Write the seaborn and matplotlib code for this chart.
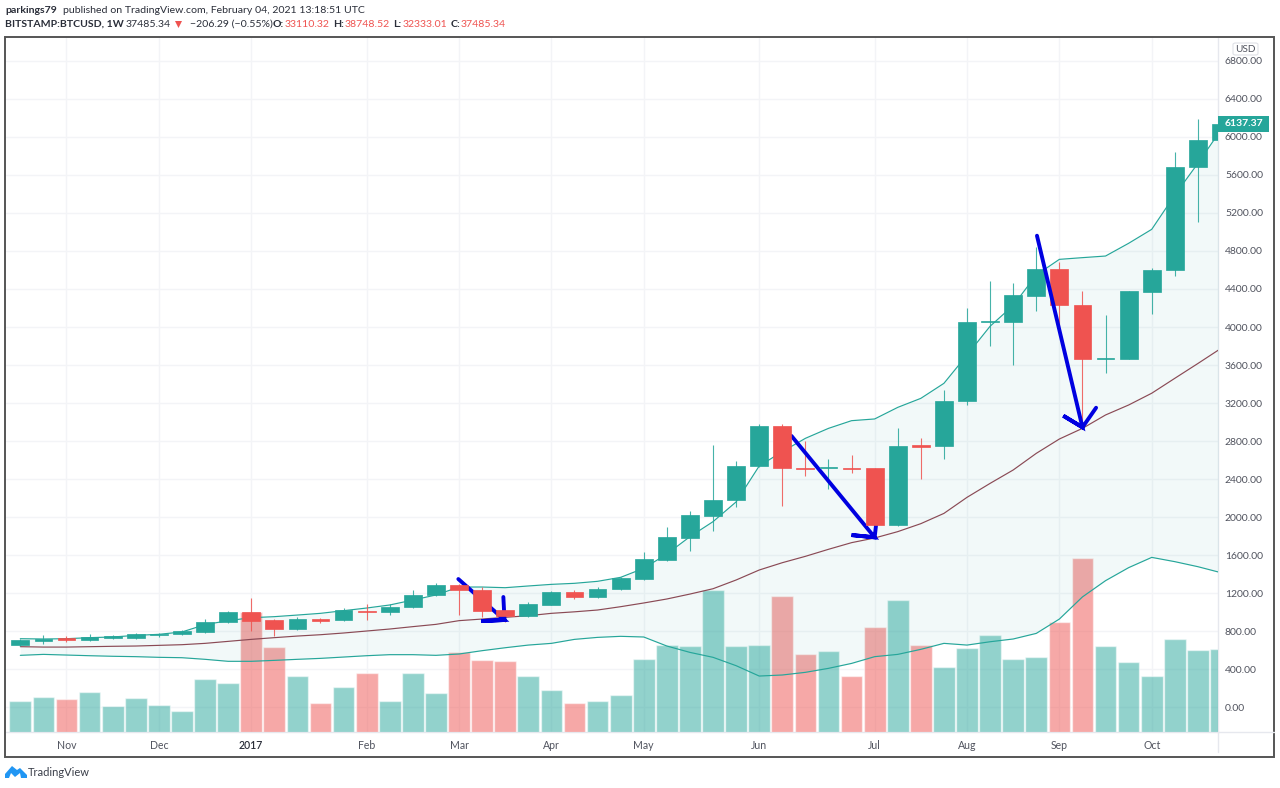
#!/usr/bin/env python3
"""BTCUSD weekly candles with bollinger bands and volume, TradingView look"""

import matplotlib
matplotlib.use('Agg')
import matplotlib.pyplot as plt
from matplotlib.lines import Line2D
from matplotlib.patches import FancyBboxPatch, Polygon, Rectangle
import numpy as np
import pandas as pd
import seaborn as sns

# weekly candles, index 0 is the first bar in the chart
opens = [649, 695, 723, 705, 726, 729, 758, 768, 793, 895, 1000, 916, 821, 930, 916, 1014, 997, 1053, 1179, 1281,
         1232, 1018, 961, 1077, 1207, 1158, 1239, 1344, 1547, 1782, 2014, 2176, 2534, 2958, 2519, 2513, 2516, 2512,
         1916, 2761, 2750, 3224, 4050, 4056, 4326, 4607, 4232, 3663, 3666, 4372, 4597, 5687, 5968]
highs = [719, 755, 744, 765, 755, 779, 779, 811, 923, 1010, 1144, 923, 947, 937, 1045, 1081, 1081, 1228, 1302, 1295,
         1266, 1021, 1102, 1224, 1232, 1260, 1365, 1628, 1895, 2063, 2758, 2589, 2979, 2979, 2797, 2607, 2653, 2519,
         2940, 2828, 3337, 4203, 4484, 4460, 4845, 4687, 4382, 4126, 4382, 4618, 5845, 6186, 6150]
lows = [641, 666, 684, 698, 719, 719, 737, 761, 782, 887, 803, 747, 814, 881, 905, 916, 972, 1042, 1168, 968,
        944, 898, 950, 1070, 1137, 1151, 1228, 1337, 1540, 1639, 1853, 2108, 2530, 2119, 2435, 2291, 2460, 1905,
        1905, 2397, 2610, 3176, 3800, 3600, 4168, 4003, 2950, 3512, 3660, 4140, 4537, 5102, 5950]
closes = [702, 716, 705, 737, 744, 768, 772, 800, 892, 1000, 908, 821, 930, 908, 1021, 1000, 1056, 1179, 1281, 1232,
          1014, 961, 1081, 1207, 1158, 1242, 1358, 1555, 1789, 2018, 2179, 2537, 2958, 2516, 2509, 2523, 2505, 1916,
          2750, 2740, 3224, 4053, 4063, 4337, 4607, 4228, 3666, 3674, 4382, 4600, 5687, 5968, 6137]

# volume, arbitrary units, no scale shown on the chart
volume = [31, 35, 33, 40, 26, 34, 27, 21, 53, 49, 120, 85, 56, 29, 45, 59, 31, 59, 39, 80,
          72, 71, 56, 42, 29, 31, 37, 73, 87, 86, 142, 86, 87, 136, 78, 81, 56, 105,
          132, 87, 65, 84, 97, 73, 75, 110, 174, 86, 70, 56, 93, 82, 83]
volume_down = [2, 10, 11, 13, 15, 19, 20, 21, 24, 33, 34, 36, 37, 39, 45, 46]

# bollinger bands
bb_upper = [719, 716, 719, 730, 737, 754, 765, 790, 867, 909, 940, 951, 968, 986, 1014, 1042, 1074, 1126, 1179, 1263,
            1263, 1256, 1274, 1291, 1302, 1323, 1365, 1460, 1610, 1793, 1951, 2159, 2537, 2688, 2828, 2933, 3014, 3032,
            3154, 3249, 3407, 3705, 4008, 4227, 4547, 4712, 4730, 4747, 4881, 5028, 5389, 5723, 6076]
bb_basis = [635, 631, 631, 635, 639, 642, 649, 656, 670, 691, 712, 730, 747, 761, 779, 800, 821, 846, 870, 909,
            926, 944, 961, 986, 1002, 1021, 1056, 1095, 1137, 1189, 1245, 1337, 1442, 1519, 1586, 1660, 1730, 1779,
            1846, 1930, 2038, 2207, 2354, 2495, 2670, 2821, 2933, 3074, 3179, 3303, 3460, 3616, 3775]
bb_lower = [544, 554, 547, 540, 534, 530, 523, 519, 502, 481, 481, 491, 502, 512, 526, 540, 551, 551, 544, 558,
            593, 624, 652, 670, 712, 733, 744, 737, 642, 575, 523, 435, 326, 337, 365, 407, 459, 530,
            554, 607, 670, 652, 687, 716, 775, 926, 1159, 1330, 1467, 1575, 1530, 1477, 1414]

# hand drawn arrows as (bar index, price): shaft start, tip, head left, tip, head right
arrow_small = [(18.97, 1347), (20.97, 916), (19.97, 905), (20.97, 916), (20.92, 1158)]
arrow_mid = [(33.4, 2853), (37.0, 1786), (36.0, 1810), (37.0, 1786), (37.1, 2000)]
arrow_big = [(44.03, 4961), (46.0, 2944), (45.17, 3066), (46.0, 2944), (46.59, 3150)]

month_ticks = [2, 6, 10, 15, 19, 23, 27, 32, 37, 41, 45, 49]
month_labels = ['Nov', 'Dec', '2017', 'Feb', 'Mar', 'Apr', 'May', 'Jun', 'Jul', 'Aug', 'Sep', 'Oct']
price_ticks = list(range(0, 7200, 400))

GREEN = '#26a69a'
RED = '#ef5350'
BLUE = '#0000e0'
W, H = 1280, 788


def fx(x):
    return x / W


def fy(y):
    return 1 - y / H


def fig_text(x, y, s, **kw):
    kw.setdefault('fontsize', 7.55)
    kw.setdefault('color', '#2a2e39')
    kw.setdefault('va', 'center')
    fig.text(fx(x), fy(y), s, **kw)


sns.set_theme(style='white')
plt.rcParams['font.family'] = ['Lato', 'DejaVu Sans']

fig = plt.figure(figsize=(W / 100, H / 100), dpi=100, facecolor='white')
ax = fig.add_axes([fx(6), fy(732), fx(1218 - 6), (732 - 38) / H])

n = len(closes)
bars = np.arange(n)
xlim = (-0.62, 51.87)
ylim = (-263, 7042)

# bottom layer: grid and price scale
ax.set_xlim(xlim)
ax.set_ylim(ylim)
ax.set_xticks(month_ticks)
ax.set_xticklabels(month_labels)
ax.set_yticks(price_ticks)
ax.set_yticklabels([f'{p:.2f}' for p in price_ticks])
ax.grid(True, color='#f3f4f7', linewidth=1)
for name in ['top', 'left']:
    ax.spines[name].set_visible(False)
for name in ['right', 'bottom']:
    ax.spines[name].set_color('#e6e8ee')
    ax.spines[name].set_linewidth(1)

# middle layer: volume
ax_vol = ax.twinx()
vol_df = pd.DataFrame({'bar': bars, 'volume': volume,
                       'side': ['down' if i in volume_down else 'up' for i in bars]})
sns.barplot(data=vol_df, x='bar', y='volume', hue='side', palette={'up': GREEN, 'down': RED},
            native_scale=True, dodge=False, width=0.94, saturation=1, alpha=0.5,
            legend=False, ax=ax_vol)
ax_vol.set_xlim(xlim)
ax_vol.set_ylim(0, 694)
ax_vol.axis('off')

# top layer: bands, candles, arrows
ax_top = ax.twinx()
ax_top.set_xlim(xlim)
ax_top.set_ylim(ylim)
ax_top.axis('off')

# twinx moves the ticks of the base axes back to the left
ax.yaxis.tick_right()
ax.tick_params(axis='y', length=0, pad=5, labelsize=7.5, labelcolor='#50535e')
ax.tick_params(axis='x', length=0, pad=6, labelsize=7.6, labelcolor='#50535e')
ax.get_xticklabels()[2].set_color('#2a2e39')
ax.get_xticklabels()[2].set_fontweight('semibold')

ax_top.fill_between(bars, bb_lower, bb_upper, color=GREEN, alpha=0.06, linewidth=0, zorder=1)
bands = pd.DataFrame({'bar': bars, 'upper': bb_upper, 'basis': bb_basis, 'lower': bb_lower})
sns.lineplot(data=bands, x='bar', y='upper', color=GREEN, linewidth=0.85, ax=ax_top, zorder=2)
sns.lineplot(data=bands, x='bar', y='lower', color=GREEN, linewidth=0.85, ax=ax_top, zorder=2)
sns.lineplot(data=bands, x='bar', y='basis', color='#8a4a55', linewidth=0.85, ax=ax_top, zorder=2)
ax_top.set_xlim(xlim)
ax_top.set_ylim(ylim)

colors = [GREEN if c >= o else RED for o, c in zip(opens, closes)]
ax_top.vlines(bars, lows, highs, colors=colors, linewidth=0.8, alpha=0.85, zorder=3)
for arrow in (arrow_small, arrow_mid):
    ax_top.plot(*zip(*arrow), color=BLUE, linewidth=2.8, solid_joinstyle='miter', zorder=4)
ax_top.bar(bars, np.abs(np.array(closes) - np.array(opens)), bottom=np.minimum(opens, closes),
           width=0.77, color=colors, edgecolor=colors, linewidth=0.5, zorder=5)
ax_top.plot(*zip(*arrow_big), color=BLUE, linewidth=2.8, solid_joinstyle='miter', zorder=6)

# outer frame and the bits of scale lines outside the pane
fig.add_artist(Rectangle((fx(5), fy(757)), fx(1274 - 5), (757 - 37) / H, fill=False,
                         edgecolor='#555555', linewidth=1.4))
fig.add_artist(Line2D([fx(1218), fx(1274)], [fy(732), fy(732)], color='#e6e8ee', linewidth=1))
fig.add_artist(Line2D([fx(1218), fx(1218)], [fy(732), fy(752)], color='#e6e8ee', linewidth=1))

# last price tag and currency box
fig.add_artist(Rectangle((fx(1218), fy(132)), fx(51), 16.5 / H, facecolor=GREEN, edgecolor='none'))
fig_text(1225, 124, f'{closes[-1] + 0.37:.2f}', color='white', fontsize=7.5, fontweight='bold')
fig.add_artist(FancyBboxPatch((fx(1233), fy(55)), fx(25), 12 / H, boxstyle='round,pad=0,rounding_size=0.002',
                              facecolor='white', edgecolor='#dfe1e6', linewidth=0.8, zorder=5))
fig_text(1245.5, 49, 'USD', color='#50535e', fontsize=7.2, ha='center', zorder=6)

# header
fig_text(5, 10.5, 'parkings79', fontweight='bold')
fig_text(63, 10.5, 'published on TradingView.com, February 04, 2021 13:18:51 UTC')
fig_text(5, 24.5, 'BITSTAMP:BTCUSD, 1W', fontweight='bold')
fig_text(126, 24.5, '37485.34')
fig.add_artist(Polygon([(fx(175), fy(21)), (fx(182), fy(21)), (fx(178.5), fy(28))], facecolor=RED, edgecolor='none'))
fig_text(190, 24.5, '−206.29 (−0.55%)')
for x_key, key, x_val, val in [(273, 'O:', 285, '33110.32'), (333, 'H:', 345, '38748.52'),
                               (393, 'L:', 403, '32333.01'), (451, 'C:', 461, '37485.34')]:
    fig_text(x_key, 24.5, key, fontweight='bold')
    fig_text(x_val, 24.5, val, color=RED)

# logo
logo = [(5, 774), (12, 766), (17, 770), (20, 768), (27, 775), (27, 778), (21, 778), (20, 773), (15, 777), (11, 773),
        (9, 778), (5, 778)]
fig.add_artist(Polygon([(fx(x), fy(y)) for x, y in logo], facecolor='#2196f3', edgecolor='none'))
fig_text(28, 772, 'TradingView', fontsize=8.0, color='#3a3e49')

fig.savefig('out.png', dpi=100)
